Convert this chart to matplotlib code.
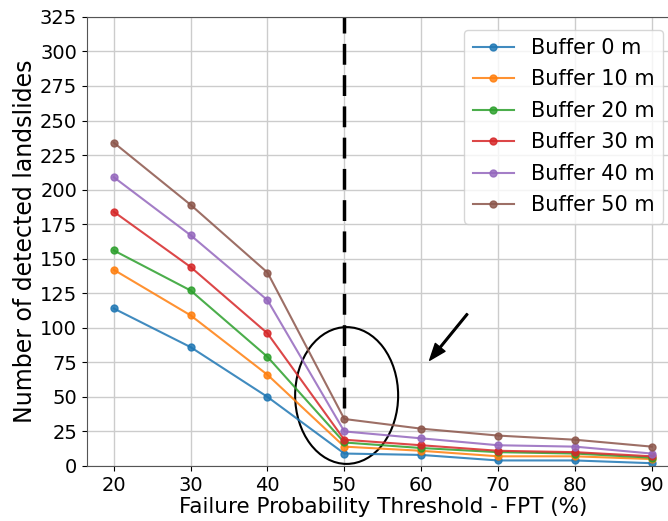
import matplotlib
matplotlib.use('Agg')
import matplotlib.pyplot as plt
from matplotlib.patches import Ellipse

# Пороги FPT (%)
fpt = [20, 30, 40, 50, 60, 70, 80, 90]

# Число выявленных оползней для каждого буфера
buffer_0 = [114, 86, 50, 9, 8, 4, 4, 2]
buffer_10 = [142, 109, 66, 14, 11, 7, 7, 5]
buffer_20 = [156, 127, 79, 17, 13, 10, 9, 6]
buffer_30 = [184, 144, 96, 19, 15, 11, 10, 7]
buffer_40 = [209, 167, 120, 25, 20, 15, 14, 9]
buffer_50 = [234, 189, 140, 34, 27, 22, 19, 14]

series = [buffer_0, buffer_10, buffer_20, buffer_30, buffer_40, buffer_50]
labels = ['Buffer 0 m', 'Buffer 10 m', 'Buffer 20 m', 'Buffer 30 m', 'Buffer 40 m', 'Buffer 50 m']

fig = plt.figure(figsize=(6.68, 5.21), dpi=100)
ax = fig.add_axes([0.130, 0.1056, 0.886, 0.862])

for values, label in zip(series, labels):
    ax.plot(fpt, values, marker='o', markersize=5, linewidth=1.5, alpha=0.85, label=label)

# Вертикальная линия на FPT = 50 %
ax.plot([50, 50], [42, 325], color='black', linestyle='--', linewidth=2.5, dashes=(6, 3))

# Эллипс вокруг точки излома
ax.add_patch(Ellipse((50.3, 51), 13.4, 99, fill=False, edgecolor='black', linewidth=1.5, clip_on=False))

# Стрелка
ax.annotate('', xy=(61.1, 76.5), xytext=(66.0, 110),
            arrowprops=dict(facecolor='black', edgecolor='black', width=1.2, headwidth=9, headlength=12))

ax.set_xlim(16.5, 93.5)
ax.set_ylim(0, 325)
ax.set_xticks(fpt)
ax.set_yticks(range(0, 326, 25))
ax.tick_params(labelsize=14)
ax.grid(True, color='#cccccc', linewidth=1)
ax.set_axisbelow(True)
for s in ax.spines.values():
    s.set_color('#555555')

ax.set_xlabel('Failure Probability Threshold - FPT (%)', fontsize=15.5, labelpad=2)
ax.set_ylabel('Number of detected landslides', fontsize=17, labelpad=2)

ax.legend(loc='upper right', bbox_to_anchor=(1.008, 0.963), bbox_transform=fig.transFigure,
          fontsize=15, framealpha=0.8, labelspacing=0.55)

fig.savefig('out.png', dpi=100)
